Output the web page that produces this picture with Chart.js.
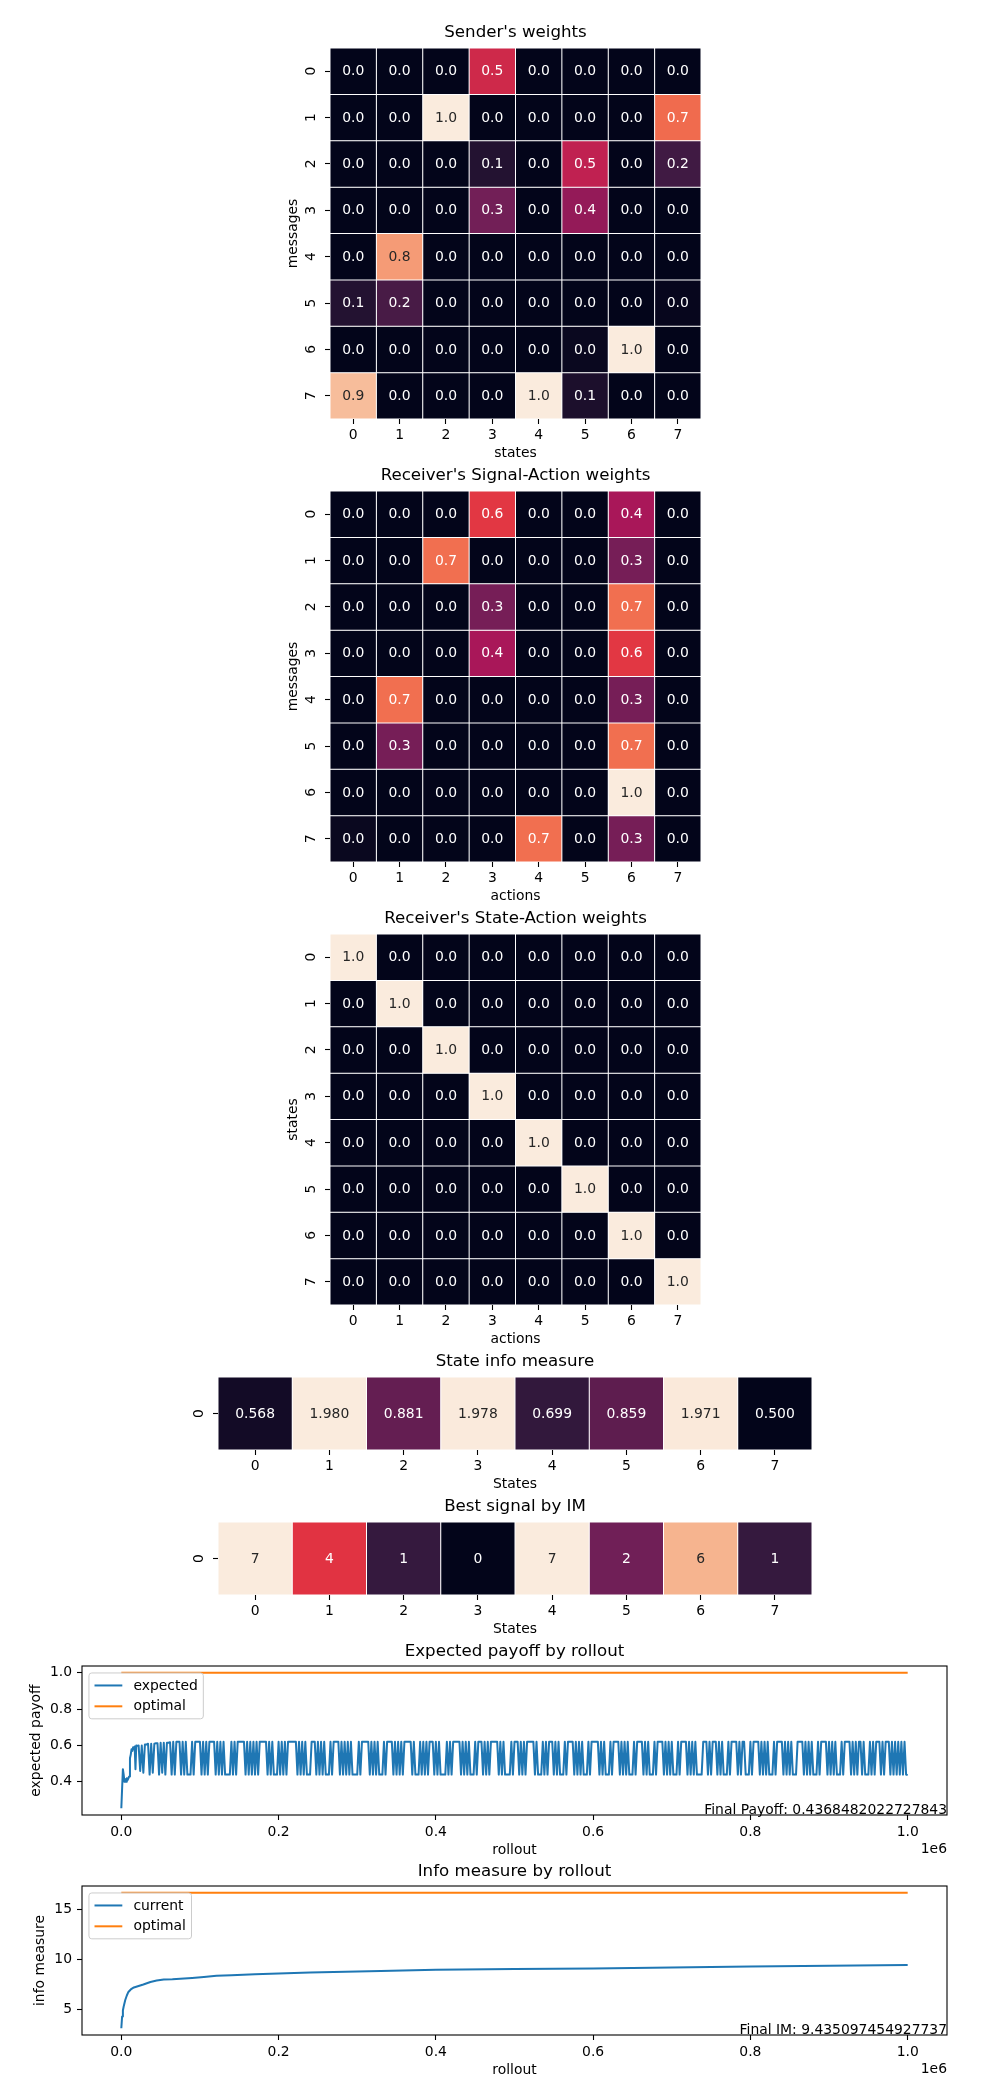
<!DOCTYPE html>
<html>
<head>
<meta charset="utf-8">
<script src="https://cdn.jsdelivr.net/npm/chart.js@4.4.0/dist/chart.umd.min.js"></script>
<style>
  html, body { margin: 0; padding: 0; background: #fff; overflow: hidden; }
  #page { position: relative; width: 1000px; height: 2100px; }
  #page canvas { position: absolute; }
</style>
</head>
<body>
<div id="page"></div>
<script>
// ---- data ----
const states = ['0', '1', '2', '3', '4', '5', '6', '7'];
const messages = ['0', '1', '2', '3', '4', '5', '6', '7'];
const actions = ['0', '1', '2', '3', '4', '5', '6', '7'];
const singleRow = ['0'];

// rows = messages, columns = states
const senderWeights = [
  [0, 0, 0, 0.52, 0, 0, 0, 0],
  [0, 0, 1.0, 0, 0, 0, 0, 0.69],
  [0, 0, 0, 0.09, 0, 0.48, 0, 0.17],
  [0, 0, 0, 0.29, 0, 0.37, 0, 0],
  [0, 0.8, 0, 0, 0, 0, 0, 0],
  [0.09, 0.19, 0, 0, 0, 0, 0, 0.01],
  [0, 0, 0, 0, 0, 0.02, 1.0, 0],
  [0.88, 0, 0, 0, 1.0, 0.07, 0, 0]
];
// rows = messages, columns = actions
const signalActionWeights = [
  [0, 0, 0, 0.58, 0, 0, 0.42, 0],
  [0, 0, 0.7, 0, 0, 0, 0.3, 0],
  [0, 0, 0, 0.3, 0, 0, 0.7, 0],
  [0, 0, 0, 0.42, 0, 0, 0.58, 0],
  [0, 0.7, 0, 0, 0, 0, 0.3, 0],
  [0, 0.3, 0, 0, 0, 0, 0.7, 0],
  [0, 0, 0, 0, 0, 0, 1.0, 0],
  [0.02, 0, 0, 0, 0.7, 0, 0.3, 0]
];
// rows = states, columns = actions
const stateActionWeights = [
  [1, 0, 0, 0, 0, 0, 0, 0],
  [0, 1, 0, 0, 0, 0, 0, 0],
  [0, 0, 1, 0, 0, 0, 0, 0],
  [0, 0, 0, 1, 0, 0, 0, 0],
  [0, 0, 0, 0, 1, 0, 0, 0],
  [0, 0, 0, 0, 0, 1, 0, 0],
  [0, 0, 0, 0, 0, 0, 1, 0],
  [0, 0, 0, 0, 0, 0, 0, 1]
];
const stateInfoMeasure = [0.568, 1.980, 0.881, 1.978, 0.699, 0.859, 1.971, 0.500];
const bestSignalByIM = [7, 4, 1, 0, 7, 2, 6, 1];

// expected payoff by rollout
const earlyRollouts = [0, 2000, 3000, 4000, 5000, 6000, 7000, 8000, 9000, 10000,
  11000, 12000, 13000, 14000, 15000, 16000, 17000, 18000, 19000, 20000];
const earlyPayoff = [0.255, 0.47, 0.44, 0.40, 0.415, 0.40, 0.42, 0.41, 0.42, 0.43,
  0.53, 0.55, 0.58, 0.57, 0.59, 0.58, 0.595, 0.47, 0.60, 0.598];
const laterStart = 22000;
const laterStep = 2000;
const laterPayoff = [
  .60, .46, .60, .45, .605, .605, .61, .44, .61, .45,
  .61, .612, .612, .44, .615, .45, .615, .44, .615, .615,
  .618, .44, .62, .44, .62, .62, .62, .44, .62, .44,
  .62, .44, .44, .44, .62, .44, .62, .62, .62, .62,
  .44, .62, .44, .62, .44, .62, .62, .62, .62, .44,
  .62, .44, .62, .44, .62, .44, .44, .44, .44, .62,
  .44, .62, .44, .62, .62, .62, .62, .62, .44, .62,
  .44, .62, .44, .62, .44, .62, .44, .62, .62, .62,
  .62, .62, .44, .62, .44, .62, .44, .44, .44, .62,
  .44, .62, .44, .62, .44, .62, .62, .62, .62, .62,
  .62, .44, .62, .44, .62, .44, .62, .44, .44, .44,
  .62, .62, .62, .44, .62, .44, .62, .44, .62, .44,
  .44, .44, .62, .44, .62, .62, .62, .62, .44, .62,
  .44, .62, .44, .62, .44, .62, .44, .44, .44, .44,
  .62, .44, .62, .62, .62, .62, .62, .44, .62, .44,
  .62, .44, .62, .44, .44, .44, .62, .44, .62, .62,
  .62, .62, .44, .62, .44, .62, .44, .62, .44, .62,
  .62, .62, .62, .62, .44, .62, .44, .44, .44, .62,
  .44, .62, .44, .62, .44, .62, .62, .62, .44, .62,
  .44, .62, .44, .44, .44, .44, .62, .44, .62, .44,
  .62, .62, .62, .62, .62, .44, .62, .44, .62, .44,
  .62, .44, .44, .44, .62, .44, .62, .62, .62, .44,
  .62, .44, .62, .44, .62, .62, .62, .62, .62, .44,
  .62, .44, .62, .44, .44, .44, .44, .62, .44, .62,
  .62, .62, .44, .62, .44, .62, .44, .62, .62, .62,
  .62, .62, .44, .62, .44, .44, .44, .62, .44, .62,
  .44, .62, .62, .62, .44, .62, .44, .62, .44, .44,
  .44, .62, .44, .62, .62, .62, .62, .44, .62, .44,
  .62, .44, .62, .44, .44, .44, .62, .44, .62, .62,
  .62, .62, .62, .44, .62, .44, .62, .44, .44, .44,
  .62, .44, .62, .62, .62, .62, .44, .62, .44, .62,
  .44, .62, .44, .44, .44, .62, .44, .62, .62, .62,
  .62, .44, .62, .44, .62, .44, .44, .44, .62, .44,
  .62, .62, .62, .62, .44, .62, .44, .62, .44, .62,
  .44, .44, .44, .62, .44, .62, .62, .62, .62, .44,
  .62, .44, .62, .44, .62, .44, .44, .44, .44, .62,
  .62, .62, .44, .62, .44, .62, .62, .62, .44, .62,
  .44, .62, .44, .44, .44, .62, .44, .62, .62, .62,
  .62, .44, .62, .44, .62, .62, .44, .44, .44, .62,
  .44, .62, .62, .62, .62, .44, .62, .44, .62, .44,
  .62, .44, .44, .44, .62, .44, .62, .62, .62, .62,
  .44, .62, .44, .62, .44, .62, .44, .44, .44, .62,
  .62, .62, .62, .44, .62, .44, .62, .44, .62, .44,
  .44, .44, .62, .44, .62, .62, .62, .62, .44, .62,
  .44, .62, .44, .62, .44, .44, .44, .62, .44, .62,
  .62, .62, .62, .44, .62, .44, .62, .44, .62, .62,
  .44, .62, .44, .44, .44, .62, .44, .62, .44, .62,
  .62, .62, .44, .62, .44, .62, .62, .62, .44, .62,
  .44, .62, .44, .62, .44, .62, .44, .62, .44, .437
];
const optimalRollouts = [0, 1000000];
const optimalPayoff = [1.0, 1.0];
const finalPayoff = 0.4368482022727843;

// info measure by rollout
const imRollouts = [0, 1000, 2000, 3000, 5000, 7000, 9000, 12000, 16000, 20000,
  28000, 37000, 45000, 54000, 65000, 75000, 90000, 105000, 121000, 140000,
  170000, 200000, 240000, 270000, 330000, 400000, 500000, 600000, 700000, 800000,
  900000, 1000000];
const currentIM = [3.13, 4.3, 4.9, 5.3, 5.95, 6.4, 6.75, 7.0, 7.2, 7.3,
  7.5, 7.75, 7.9, 8.0, 8.02, 8.07, 8.15, 8.25, 8.37, 8.42,
  8.52, 8.6, 8.7, 8.75, 8.85, 8.97, 9.03, 9.1, 9.2, 9.3,
  9.36, 9.435];
const optimalIM = [16.65, 16.65];
const finalIM = 9.435097454927737;

const rolloutTicks = [0, 200000, 400000, 600000, 800000, 1000000];
const payoffTicks = [0.4, 0.6, 0.8, 1.0];
const imTicks = [5, 10, 15];

// ---- look ----
const FS = 13.9, TFS = 16.67;
const FONT = 'DejaVu Sans';
Chart.defaults.font.family = FONT;
Chart.defaults.font.size = FS;
Chart.defaults.color = '#000';
const page = document.getElementById('page');

const rocketStops = ['#03051a', '#35193e', '#701f57', '#ad1759', '#e13342', '#f37651', '#f6b48f', '#faebdd'];
function hexRgb(h) {
  return [1, 3, 5].map(i => parseInt(h.slice(i, i + 2), 16));
}
function rocket(t) {
  t = Math.min(1, Math.max(0, t));
  const pos = t * (rocketStops.length - 1);
  const i = Math.min(Math.floor(pos), rocketStops.length - 2);
  const f = pos - i;
  const a = hexRgb(rocketStops[i]), b = hexRgb(rocketStops[i + 1]);
  return a.map((v, k) => Math.round(v + (b[k] - v) * f));
}
function luminance(rgb) {
  const c = rgb.map(v => {
    v /= 255;
    return v <= 0.03928 ? v / 12.92 : Math.pow((v + 0.055) / 1.055, 2.4);
  });
  return 0.2126 * c[0] + 0.7152 * c[1] + 0.0722 * c[2];
}

function addCanvas(left, top, w, h) {
  const c = document.createElement('canvas');
  c.width = w; c.height = h;
  c.style.left = left + 'px';
  c.style.top = top + 'px';
  c.style.width = w + 'px';
  c.style.height = h + 'px';
  page.appendChild(c);
  return c;
}

const tickGrid = { drawOnChartArea: false, drawTicks: true, tickLength: 5, tickColor: '#000', tickWidth: 1.1 };

// heatmap drawn as floating bars: one dataset per row
function heatmap(o) {
  const a = o.area, yw = 60, xh = 46, topH = 25;
  const canvas = addCanvas(a.l - yw, a.t - topH, (a.r - a.l) + yw, topH + (a.b - a.t) + xh);
  const flat = o.values.flat();
  const vmin = Math.min(...flat), vmax = Math.max(...flat);
  const colors = o.values.map(row => row.map(v => rocket((v - vmin) / (vmax - vmin))));

  const datasets = o.rows.map((r, i) => ({
    label: r,
    data: o.cols.map(() => [i, i + 1]),
    backgroundColor: colors[i].map(c => `rgb(${c[0]},${c[1]},${c[2]})`),
    borderColor: '#ffffff',
    borderWidth: 0.5,
    borderSkipped: false,
    inflateAmount: 0,
    grouped: false,
    barPercentage: 1,
    categoryPercentage: 1
  }));

  const cellText = {
    id: 'cellText',
    afterDatasetsDraw(chart) {
      const ctx = chart.ctx;
      ctx.save();
      ctx.font = `${FS}px "${FONT}"`;
      ctx.textAlign = 'center';
      ctx.textBaseline = 'middle';
      chart.data.datasets.forEach((ds, i) => {
        chart.getDatasetMeta(i).data.forEach((bar, j) => {
          ctx.fillStyle = luminance(colors[i][j]) > 0.408 ? '#262626' : '#ffffff';
          ctx.fillText(o.fmt(o.values[i][j]), bar.x, (bar.y + bar.base) / 2 + 0.5);
        });
      });
      // rotated row labels, like seaborn
      const ys = chart.scales.y;
      ctx.fillStyle = '#000';
      o.rows.forEach((r, i) => {
        ctx.save();
        ctx.translate(chart.chartArea.left - 18.5, ys.getPixelForValue(i + 0.5));
        ctx.rotate(-Math.PI / 2);
        ctx.fillText(r, 0, 0);
        ctx.restore();
      });
      ctx.restore();
    }
  };

  new Chart(canvas, {
    type: 'bar',
    data: { labels: o.cols, datasets },
    options: {
      responsive: false,
      animation: false,
      events: [],
      layout: { padding: 0 },
      plugins: {
        legend: { display: false },
        tooltip: { enabled: false },
        title: {
          display: true, text: o.title, fullSize: false, color: '#000',
          font: { size: TFS, weight: 'normal' }, padding: { top: 0, bottom: 5 }
        }
      },
      scales: {
        x: {
          type: 'category',
          offset: true,
          grid: Object.assign({ offset: false }, tickGrid),
          border: { display: false },
          ticks: { padding: 3, maxRotation: 0, autoSkip: false, color: '#000' },
          title: { display: true, text: o.xTitle, color: '#000', font: { size: FS }, padding: { top: 0, bottom: 3.2 } },
          afterFit: s => { s.height = xh; }
        },
        y: {
          type: 'linear',
          min: 0, max: o.rows.length,
          bounds: 'data',
          reverse: true,
          afterBuildTicks: s => { s.ticks = o.rows.map((r, i) => ({ value: i + 0.5 })); },
          ticks: { display: false },
          grid: tickGrid,
          border: { display: false },
          title: o.yTitle
            ? { display: true, text: o.yTitle, color: '#000', font: { size: FS }, padding: { top: 14.7, bottom: 0 } }
            : { display: false },
          afterFit: s => { s.width = yw; }
        }
      }
    },
    plugins: [cellText]
  });
}

function roundRectPath(ctx, x, y, w, h, r) {
  ctx.beginPath();
  ctx.moveTo(x + r, y);
  ctx.arcTo(x + w, y, x + w, y + h, r);
  ctx.arcTo(x + w, y + h, x, y + h, r);
  ctx.arcTo(x, y + h, x, y, r);
  ctx.arcTo(x, y, x + w, y, r);
  ctx.closePath();
}

function lineChart(o) {
  const a = o.area, yw = a.l, xh = 46, topH = 24;
  const canvas = addCanvas(0, a.t - topH, 1000, topH + (a.b - a.t) + xh);
  const allY = o.series.flatMap(s => s.y);
  const allX = o.series.flatMap(s => s.x);
  const yLo = Math.min(...allY), yHi = Math.max(...allY);
  const xLo = Math.min(...allX), xHi = Math.max(...allX);
  const yPad = (yHi - yLo) * 0.05, xPad = (xHi - xLo) * 0.05;

  const datasets = o.series.map(s => ({
    label: s.label,
    data: s.x.map((x, i) => ({ x, y: s.y[i] })),
    borderColor: s.color,
    backgroundColor: s.color,
    borderWidth: 2,
    borderJoinStyle: 'round',
    pointRadius: 0,
    tension: 0,
    fill: false
  }));

  const decor = {
    id: 'decor',
    afterDatasetsDraw(chart) {
      const { ctx, chartArea: c } = chart;
      ctx.save();
      ctx.strokeStyle = '#000';
      ctx.lineWidth = 1.1;
      ctx.strokeRect(c.left, c.top, c.right - c.left, c.bottom - c.top);
      ctx.restore();
    },
    afterDraw(chart) {
      const { ctx, chartArea: c } = chart;
      ctx.save();
      ctx.font = `${FS}px "${FONT}"`;
      ctx.fillStyle = '#000';
      // note in lower right corner
      ctx.textAlign = 'right';
      ctx.textBaseline = 'alphabetic';
      ctx.fillText(o.note, c.right, c.bottom - 1);
      // axis offset text
      ctx.textBaseline = 'middle';
      ctx.fillText('1e6', c.right, c.bottom + 34);
      // legend, upper left
      const items = chart.data.datasets;
      const pad = 0.4 * FS, hl = 2 * FS, htp = 0.8 * FS, sp = 0.5 * FS;
      const tw = Math.max(...items.map(d => ctx.measureText(d.label).width));
      const x0 = c.left + 0.5 * FS, y0 = c.top + 0.5 * FS;
      const w = pad + hl + htp + tw + pad;
      const h = 2 * pad + items.length * FS + (items.length - 1) * sp;
      roundRectPath(ctx, x0, y0, w, h, 2.8);
      ctx.fillStyle = 'rgba(255,255,255,0.8)';
      ctx.fill();
      ctx.strokeStyle = '#cccccc';
      ctx.lineWidth = 1;
      ctx.stroke();
      ctx.textAlign = 'left';
      items.forEach((d, i) => {
        const cy = y0 + pad + FS / 2 + i * (FS + sp);
        ctx.strokeStyle = d.borderColor;
        ctx.lineWidth = 2;
        ctx.beginPath();
        ctx.moveTo(x0 + pad, cy);
        ctx.lineTo(x0 + pad + hl, cy);
        ctx.stroke();
        ctx.fillStyle = '#000';
        ctx.fillText(d.label, x0 + pad + hl + htp, cy + 0.5);
      });
      ctx.restore();
    }
  };

  new Chart(canvas, {
    type: 'line',
    data: { datasets },
    options: {
      responsive: false,
      animation: false,
      events: [],
      layout: { padding: { left: 0, right: 1000 - a.r, top: 0, bottom: 0 } },
      plugins: {
        legend: { display: false },
        tooltip: { enabled: false },
        title: {
          display: true, text: o.title, fullSize: false, color: '#000',
          font: { size: TFS, weight: 'normal' }, padding: { top: 0, bottom: 4 }
        }
      },
      scales: {
        x: {
          type: 'linear',
          min: xLo - xPad, max: xHi + xPad,
          bounds: 'data',
          afterBuildTicks: s => { s.ticks = rolloutTicks.map(v => ({ value: v })); },
          ticks: { padding: 4, maxRotation: 0, autoSkip: false, color: '#000', callback: v => (v / 1e6).toFixed(1) },
          grid: tickGrid,
          border: { display: false },
          title: { display: true, text: 'rollout', color: '#000', font: { size: FS }, padding: { top: 0, bottom: 2.7 } },
          afterFit: s => { s.height = xh; }
        },
        y: {
          type: 'linear',
          min: yLo - yPad, max: yHi + yPad,
          bounds: 'data',
          afterBuildTicks: s => { s.ticks = o.yTicks.map(v => ({ value: v })); },
          ticks: { padding: 5, color: '#000', callback: o.yFmt },
          grid: tickGrid,
          border: { display: false },
          title: { display: true, text: o.yTitle, color: '#000', font: { size: FS }, padding: { top: o.yTitlePad, bottom: 0 } },
          afterFit: s => { s.width = yw; }
        }
      }
    },
    plugins: [decor]
  });
}

// ---- charts ----
const one = v => v.toFixed(1);

heatmap({
  title: "Sender's weights", rows: messages, cols: states, values: senderWeights,
  xTitle: 'states', yTitle: 'messages', fmt: one,
  area: { l: 330, t: 48, r: 701, b: 419 }
});
heatmap({
  title: "Receiver's Signal-Action weights", rows: messages, cols: actions, values: signalActionWeights,
  xTitle: 'actions', yTitle: 'messages', fmt: one,
  area: { l: 330, t: 491, r: 701, b: 862 }
});
heatmap({
  title: "Receiver's State-Action weights", rows: states, cols: actions, values: stateActionWeights,
  xTitle: 'actions', yTitle: 'states', fmt: one,
  area: { l: 330, t: 934, r: 701, b: 1305 }
});
heatmap({
  title: 'State info measure', rows: singleRow, cols: states, values: [stateInfoMeasure],
  xTitle: 'States', yTitle: null, fmt: v => v.toFixed(3),
  area: { l: 218, t: 1377, r: 812, b: 1450 }
});
heatmap({
  title: 'Best signal by IM', rows: singleRow, cols: states, values: [bestSignalByIM],
  xTitle: 'States', yTitle: null, fmt: v => String(v),
  area: { l: 218, t: 1522, r: 812, b: 1595 }
});

const laterRollouts = laterPayoff.map((v, i) => laterStart + i * laterStep);

lineChart({
  title: 'Expected payoff by rollout',
  area: { l: 82, t: 1666, r: 947, b: 1815 },
  series: [
    { label: 'expected', color: '#1f77b4', x: earlyRollouts.concat(laterRollouts), y: earlyPayoff.concat(laterPayoff) },
    { label: 'optimal', color: '#ff7f0e', x: optimalRollouts, y: optimalPayoff }
  ],
  yTicks: payoffTicks, yFmt: v => v.toFixed(1),
  yTitle: 'expected payoff', yTitlePad: 28.4,
  note: 'Final Payoff: ' + finalPayoff
});

lineChart({
  title: 'Info measure by rollout',
  area: { l: 82, t: 1886, r: 947, b: 2035 },
  series: [
    { label: 'current', color: '#1f77b4', x: imRollouts, y: currentIM },
    { label: 'optimal', color: '#ff7f0e', x: optimalRollouts, y: optimalIM }
  ],
  yTicks: imTicks, yFmt: v => String(v),
  yTitle: 'info measure', yTitlePad: 32.4,
  note: 'Final IM: ' + finalIM
});
</script>
</body>
</html>
